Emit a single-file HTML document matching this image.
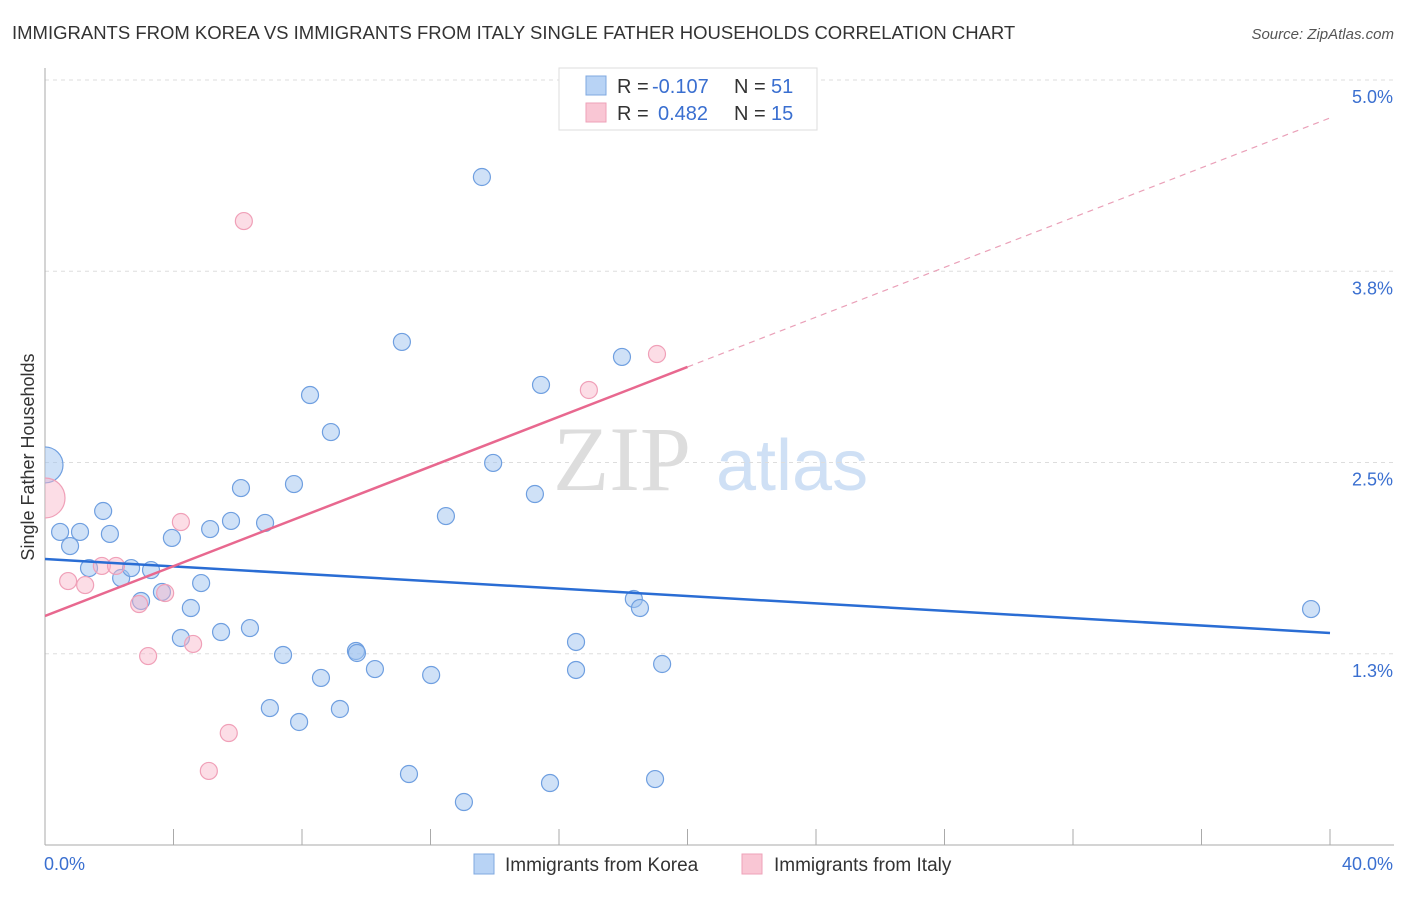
<!DOCTYPE html>
<html><head><meta charset="utf-8"><style>
body{margin:0;background:#fff;font-family:"Liberation Sans",sans-serif}
</style></head><body>
<svg id="chart" width="1406" height="892" xmlns="http://www.w3.org/2000/svg">
<defs><clipPath id="plotclip"><rect x="45" y="60" width="1360" height="785"/></clipPath></defs>
<text x="12" y="39" font-size="18.5" fill="#333">IMMIGRANTS FROM KOREA VS IMMIGRANTS FROM ITALY SINGLE FATHER HOUSEHOLDS CORRELATION CHART</text>
<text x="1394" y="39" font-size="15" fill="#555" font-style="italic" text-anchor="end">Source: ZipAtlas.com</text>
<g><text x="553" y="490" font-size="92" font-family="Liberation Serif,serif" fill="#ddd">ZIP</text><text x="716" y="490" font-size="72" fill="#cfe0f5">atlas</text></g>
<g id="grid"></g><g id="axes"></g><g id="marks" clip-path="url(#plotclip)"></g>
<text transform="translate(34,457) rotate(-90)" font-size="18" fill="#333" text-anchor="middle">Single Father Households</text>
<g>
<rect x="559" y="68" width="258" height="62" fill="#fff" stroke="#ddd"/>
<rect x="586" y="76" width="20" height="19" fill="#b8d3f5" stroke="#7fa8e0"/>
<rect x="586" y="103" width="20" height="19" fill="#f9c6d4" stroke="#eea2b8"/>
<text x="617" y="93" font-size="20" fill="#333">R =</text>
<text x="652" y="93" font-size="20" fill="#3a6fd0">-0.107</text>
<text x="734" y="93" font-size="20" fill="#333">N =</text>
<text x="771" y="93" font-size="20" fill="#3a6fd0">51</text>
<text x="617" y="120" font-size="20" fill="#333">R =</text>
<text x="658" y="120" font-size="20" fill="#3a6fd0">0.482</text>
<text x="734" y="120" font-size="20" fill="#333">N =</text>
<text x="771" y="120" font-size="20" fill="#3a6fd0">15</text>
</g>
<g>
<rect x="474" y="854" width="20" height="20" fill="#b8d3f5" stroke="#7fa8e0"/>
<text x="505" y="871" font-size="19" fill="#333">Immigrants from Korea</text>
<rect x="742" y="854" width="20" height="20" fill="#f9c6d4" stroke="#eea2b8"/>
<text x="774" y="871" font-size="19" fill="#333">Immigrants from Italy</text>
</g>
</svg>
<script>
const koreaX=[0,0.47,1.09,0.78,1.81,2.02,1.37,2.37,2.68,3.30,2.99,3.64,3.95,4.54,4.23,4.86,5.14,5.48,5.79,6.10,6.38,6.85,7.41,7.75,7.00,7.91,8.25,8.59,8.90,9.18,9.68,9.71,10.27,11.11,11.33,12.02,12.48,13.04,13.60,13.95,15.25,15.44,15.72,16.53,16.53,17.96,18.33,18.52,18.99,19.21,39.41];
const koreaY=[2.484,2.046,2.046,1.954,2.183,2.033,1.810,1.745,1.810,1.797,1.595,1.654,2.007,1.549,1.353,1.712,2.065,1.392,2.118,2.333,1.418,2.105,1.242,2.359,0.895,0.804,2.941,1.092,2.699,0.889,1.268,1.255,1.150,3.288,0.464,1.111,2.150,0.281,4.366,2.497,2.294,3.007,0.405,1.327,1.144,3.190,1.608,1.549,0.431,1.183,1.542];
const koreaBig=[0];
const italyX=[0,0.72,1.25,1.77,2.21,2.93,3.21,3.74,4.23,4.61,5.10,5.72,6.19,16.93,19.05];
const italyY=[2.268,1.725,1.699,1.824,1.824,1.575,1.235,1.647,2.111,1.314,0.484,0.732,4.078,2.974,3.209];
const italyBig=[0];
const koreaTrend=[1.869,1.386];
const italyTrend=[1.497,4.752];
const italySolidEnd=20;
const yTicks=[5.0,3.75,2.5,1.25];
const yTickLabels=["5.0%","3.8%","2.5%","1.3%"];
const xTicks=[0,4,8,12,16,20,24,28,32,36,40];
const xLabels=[[0,"0.0%"],[40,"40.0%"]];

const NS="http://www.w3.org/2000/svg";
const X=v=>45+v*32.125, Y=v=>845-v*153;
function mk(p,tag,a){const e=document.createElementNS(NS,tag);for(const k in a)e.setAttribute(k,a[k]);p.appendChild(e);return e;}
const grid=document.getElementById('grid'),axes=document.getElementById('axes'),marks=document.getElementById('marks');
yTicks.forEach((t,i)=>{
 const l=mk(grid,'line',{x1:45,x2:1394,y1:Y(t),y2:Y(t),stroke:'#ddd','stroke-dasharray':'4,4'});
 
 
 const tx=mk(grid,'text',{x:1393,y:Y(t)+23,'font-size':18,fill:'#3a6fd0','text-anchor':'end'});tx.textContent=yTickLabels[i];
 
 
});
const ya=mk(axes,'line',{x1:45,x2:45,y1:68,y2:845,stroke:'#aaa'});


const xa=mk(axes,'line',{x1:45,x2:1394,y1:845,y2:845,stroke:'#aaa'});


xTicks.forEach(t=>{if(t===0)return;const l=mk(axes,'line',{x1:X(t),x2:X(t),y1:829,y2:845,stroke:'#aaa'});
 
 });
xLabels.forEach(([v,s])=>{const tx=mk(axes,'text',{x:v===0?X(v)-1:1393,y:870,'font-size':18,fill:'#3a6fd0','text-anchor':v===0?'start':'end'});tx.textContent=s;
 
 });
function pts(xs,ys,big,fill,stroke,name){xs.forEach((x,i)=>{const r=big.includes(i)?(name==='italy-point'?20:18):8.5;
 const c=mk(marks,'circle',{cx:X(x),cy:Y(ys[i]),r:r,fill:fill,stroke:stroke,'stroke-width':1.2});
 
 });}
pts(koreaX,koreaY,koreaBig,'rgba(160,196,240,0.5)','#6f9fe0','korea-point');
pts(italyX,italyY,italyBig,'rgba(248,180,200,0.45)','#f0a0b8','italy-point');
const ky=x=>koreaTrend[0]+(koreaTrend[1]-koreaTrend[0])*x/40, iy=x=>italyTrend[0]+(italyTrend[1]-italyTrend[0])*x/40;
const bl=mk(marks,'line',{x1:X(0),y1:Y(ky(0)),x2:X(40),y2:Y(ky(40)),stroke:'#2a6dd4','stroke-width':2.5});


const pl=mk(marks,'line',{x1:X(0),y1:Y(iy(0)),x2:X(italySolidEnd),y2:Y(iy(italySolidEnd)),stroke:'#e8688f','stroke-width':2.5});


const pd=mk(marks,'line',{x1:X(italySolidEnd),y1:Y(iy(italySolidEnd)),x2:X(40),y2:Y(iy(40)),stroke:'#eaa0b8','stroke-width':1.2,'stroke-dasharray':'6,5'});


</script>
</body></html>
